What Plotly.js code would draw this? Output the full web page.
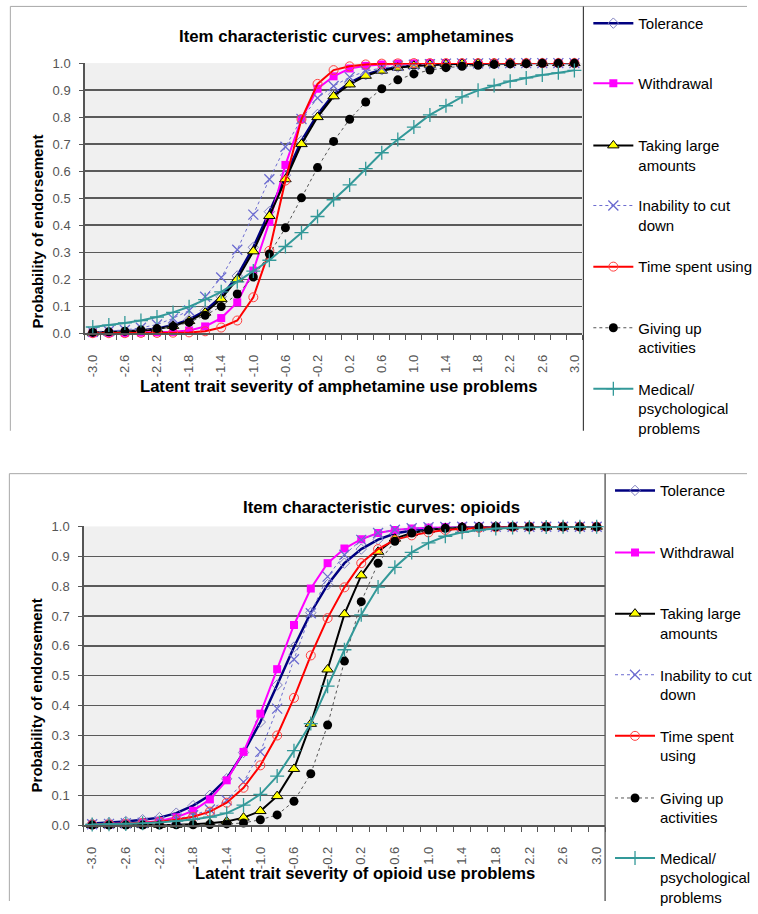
<!DOCTYPE html>
<html>
<head>
<meta charset="utf-8">
<script src="https://cdn.plot.ly/plotly-3.0.1.min.js"></script>
<style>html,body{margin:0;padding:0;background:#fff;}#chart{width:758px;height:914px;}</style>
</head>
<body>
<div id="chart"></div>
<script>
// ---------------- DATA ----------------
const xValues = [-3.0,-2.8,-2.6,-2.4,-2.2,-2.0,-1.8,-1.6,-1.4,-1.2,-1.0,-0.8,-0.6,-0.4,-0.2,0.0,0.2,0.4,0.6,0.8,1.0,1.2,1.4,1.6,1.8,2.0,2.2,2.4,2.6,2.8,3.0];
const xTickVals = [-3.0,-2.6,-2.2,-1.8,-1.4,-1.0,-0.6,-0.2,0.2,0.6,1.0,1.4,1.8,2.2,2.6,3.0];
const xTickText = ['-3.0','-2.6','-2.2','-1.8','-1.4','-1.0','-0.6','-0.2','0.2','0.6','1.0','1.4','1.8','2.2','2.6','3.0'];
const seriesNames = ['Tolerance','Withdrawal','Taking large amounts','Inability to cut down','Time spent using','Giving up activities','Medical/ psychological problems'];

// Amphetamines
const ampTolerance   = [0.002,0.004,0.006,0.010,0.017,0.030,0.050,0.083,0.135,0.212,0.318,0.450,0.585,0.712,0.810,0.884,0.927,0.957,0.975,0.985,0.991,0.995,0.997,0.998,0.999,0.999,1.000,1.000,1.000,1.000,1.000];
const ampWithdrawal  = [0.000,0.001,0.001,0.002,0.003,0.005,0.010,0.025,0.056,0.114,0.232,0.412,0.623,0.793,0.905,0.951,0.980,0.990,0.995,0.998,0.999,1.000,1.000,1.000,1.000,1.000,1.000,1.000,1.000,1.000,1.000];
const ampTaking      = [0.002,0.003,0.005,0.009,0.015,0.027,0.045,0.076,0.127,0.200,0.303,0.434,0.570,0.700,0.800,0.877,0.921,0.953,0.972,0.983,0.990,0.994,0.996,0.998,0.999,0.999,1.000,1.000,1.000,1.000,1.000];
const ampInability   = [0.005,0.008,0.012,0.020,0.032,0.055,0.084,0.135,0.206,0.309,0.439,0.570,0.690,0.793,0.871,0.915,0.948,0.970,0.982,0.990,0.994,0.996,0.998,0.999,0.999,0.999,1.000,1.000,1.000,1.000,1.000];
const ampTimeSpent   = [0.000,0.000,0.000,0.001,0.001,0.002,0.003,0.007,0.021,0.047,0.133,0.305,0.565,0.793,0.923,0.974,0.988,0.995,0.998,0.999,1.000,1.000,1.000,1.000,1.000,1.000,1.000,1.000,1.000,1.000,1.000];
const ampGivingUp    = [0.003,0.005,0.007,0.012,0.017,0.025,0.040,0.066,0.099,0.145,0.208,0.293,0.390,0.501,0.613,0.710,0.792,0.856,0.905,0.938,0.960,0.974,0.983,0.988,0.992,0.995,0.997,0.998,0.999,0.999,0.999];
const ampMedical     = [0.023,0.030,0.038,0.047,0.060,0.077,0.098,0.124,0.153,0.190,0.230,0.270,0.321,0.372,0.432,0.494,0.549,0.609,0.668,0.717,0.763,0.808,0.842,0.875,0.899,0.917,0.933,0.945,0.956,0.964,0.973];

// Opioids
const opiTolerance   = [0.005,0.008,0.012,0.018,0.025,0.040,0.065,0.100,0.155,0.243,0.345,0.469,0.596,0.711,0.805,0.877,0.924,0.956,0.976,0.986,0.992,0.995,0.997,0.998,0.999,0.999,0.999,0.999,0.999,0.999,0.999];
const opiWithdrawal  = [0.002,0.003,0.005,0.008,0.014,0.026,0.048,0.086,0.150,0.245,0.373,0.522,0.670,0.792,0.877,0.926,0.957,0.978,0.988,0.993,0.996,0.998,0.999,0.999,0.999,0.999,0.999,0.999,0.999,0.999,0.999];
const opiTaking      = [0.000,0.000,0.000,0.000,0.001,0.001,0.003,0.006,0.012,0.025,0.047,0.097,0.188,0.339,0.521,0.706,0.836,0.915,0.959,0.978,0.988,0.994,0.997,0.998,0.999,0.999,0.999,0.999,0.999,0.999,0.999];
const opiInability   = [0.003,0.004,0.006,0.008,0.012,0.020,0.033,0.052,0.083,0.144,0.245,0.390,0.555,0.709,0.832,0.905,0.955,0.978,0.989,0.994,0.997,0.998,0.999,0.999,0.999,0.999,0.999,0.999,0.999,0.999,0.999];
const opiTimeSpent   = [0.002,0.003,0.004,0.007,0.011,0.018,0.028,0.045,0.075,0.125,0.200,0.300,0.426,0.568,0.693,0.796,0.877,0.924,0.955,0.970,0.980,0.988,0.992,0.995,0.997,0.998,0.999,0.999,0.999,0.999,0.999];
const opiGivingUp    = [0.000,0.000,0.000,0.000,0.000,0.001,0.001,0.002,0.004,0.007,0.018,0.034,0.080,0.172,0.335,0.549,0.748,0.877,0.950,0.978,0.988,0.994,0.997,0.998,0.999,0.999,0.999,0.999,0.999,0.999,0.999];
const opiMedical     = [0.002,0.003,0.004,0.006,0.009,0.013,0.019,0.027,0.040,0.067,0.103,0.164,0.249,0.340,0.465,0.587,0.704,0.797,0.863,0.913,0.945,0.967,0.980,0.988,0.993,0.996,0.997,0.998,0.999,0.999,0.999];

// ---------------- STYLE ----------------
const W = 758, H = 914;
const px = v => v / W;
const py = v => 1 - v / H;
const FONT = 'Arial, "Liberation Sans", sans-serif';

const legendLabelsTop = ['Tolerance','Withdrawal','Taking large<br>amounts','Inability to cut<br>down','Time spent using','Giving up<br>activities','Medical/<br>psychological<br>problems'];
const legendLabelsBottom = ['Tolerance','Withdrawal','Taking large<br>amounts','Inability to cut<br>down','Time spent<br>using','Giving up<br>activities','Medical/<br>psychological<br>problems'];

const styles = [
  {line:{color:'#000080', width:2.5}, marker:{symbol:'diamond-open', color:'#7f7fc0', size:8, line:{width:1, color:'#7f7fc0'}}},
  {line:{color:'#ff00ff', width:2}, marker:{symbol:'square', color:'#ff00ff', size:8}},
  {line:{color:'#000000', width:2}, marker:{symbol:'triangle-up', color:'#ffff00', size:10, line:{color:'#000000', width:1}}},
  {line:{color:'#6b6bd0', width:1, dash:'dot'}, marker:{symbol:'x-thin-open', color:'#6b6bd0', size:10, line:{width:1.3, color:'#6b6bd0'}}},
  {line:{color:'#ff0000', width:2}, marker:{symbol:'circle-open', color:'#ff4040', size:9, line:{width:1, color:'#ff4040'}}},
  {line:{color:'#555555', width:1, dash:'dot'}, marker:{symbol:'circle', color:'#000000', size:9}},
  {line:{color:'#339999', width:2}, marker:{symbol:'cross-thin-open', color:'#339999', size:10, line:{width:1.3, color:'#339999'}}}
];

const ampSeries = [ampTolerance, ampWithdrawal, ampTaking, ampInability, ampTimeSpent, ampGivingUp, ampMedical];
const opiSeries = [opiTolerance, opiWithdrawal, opiTaking, opiInability, opiTimeSpent, opiGivingUp, opiMedical];

const legendTextTop = [20, 81, 144, 205, 267, 329, 391];
const legendTextBottom = [494, 557, 619, 681, 743, 806, 867];

const traces = [];
const layoutLegends = {};
function legendKey(n){ return n === 1 ? 'legend' : 'legend' + n; }

ampSeries.forEach((ys, i) => {
  const n = i + 1;
  traces.push(Object.assign({
    type:'scatter', mode:'lines+markers', x:xValues, y:ys, name:legendLabelsTop[i],
    xaxis:'x', yaxis:'y', legend:legendKey(n), cliponaxis:false
  }, JSON.parse(JSON.stringify(styles[i]))));
  layoutLegends[legendKey(n)] = {x:px(597), y:py(legendTextTop[i] - 13), xanchor:'left', yanchor:'top',
    bgcolor:'rgba(0,0,0,0)', borderwidth:0, valign:'top', itemwidth:40,
    font:{family:FONT, size:15, color:'#000'}};
});
opiSeries.forEach((ys, i) => {
  const n = i + 8;
  traces.push(Object.assign({
    type:'scatter', mode:'lines+markers', x:xValues, y:ys, name:legendLabelsBottom[i],
    xaxis:'x2', yaxis:'y2', legend:legendKey(n), cliponaxis:false
  }, JSON.parse(JSON.stringify(styles[i]))));
  layoutLegends[legendKey(n)] = {x:px(619), y:py(legendTextBottom[i] - 13), xanchor:'left', yanchor:'top',
    bgcolor:'rgba(0,0,0,0)', borderwidth:0, valign:'top', itemwidth:40,
    font:{family:FONT, size:15, color:'#000'}};
});

function xAxisDef(domain, anchor){
  return {domain:domain, anchor:anchor, range:[-3.1,3.1], tickmode:'array', tickvals:xTickVals, ticktext:xTickText,
    ticks:'', tickangle:-90, tickfont:{family:FONT, size:13, color:'#555'}, ticklabelstandoff:15,
    showline:true, linecolor:'#555', linewidth:1.5, showgrid:false, zeroline:false,
    minor:{tick0:-3.1, dtick:0.2, ticks:'outside', ticklen:5, tickcolor:'#555', tickwidth:1, showgrid:false}};
}
function yAxisDef(domain, anchor){
  return {domain:domain, anchor:anchor, range:[0,1], tick0:0, dtick:0.1, tickformat:'.1f',
    ticks:'outside', ticklen:4, tickcolor:'#555', tickfont:{family:FONT, size:13, color:'#555'}, ticklabelstandoff:6,
    showline:true, linecolor:'#555', linewidth:1.5, showgrid:true, gridcolor:'#5a5a5a', gridwidth:1.3, zeroline:false};
}

const titleFont = {family:FONT, size:16.8, color:'#000', weight:'bold'};
const axisTitleFont = {family:FONT, size:16.6, color:'#000', weight:'bold'};
const yTitleFont = {family:FONT, size:15, color:'#000', weight:'bold'};
function ann(text, x, y, font, angle){
  return {text:text, x:px(x), y:py(y), xref:'paper', yref:'paper', xanchor:'center', yanchor:'middle',
    showarrow:false, textangle:angle || 0, font:font};
}
const annotations = [
  ann('Item characteristic curves: amphetamines', 352, 37, titleFont),
  ann('Item characteristic curves: opioids', 387, 515, titleFont),
  ann('Latent trait severity of amphetamine use problems', 343, 392, axisTitleFont),
  ann('Latent trait severity of opioid use problems', 370, 886, axisTitleFont),
  ann('Probability of endorsement', 38.5, 235, yTitleFont, -90),
  ann('Probability of endorsement', 38, 705, yTitleFont, -90)
];

function lineShape(x0,y0,x1,y1,color,width){
  return {type:'line', xref:'paper', yref:'paper', x0:px(x0), y0:py(y0), x1:px(x1), y1:py(y1), line:{color:color, width:width}, layer:'below'};
}
const shapes = [
  lineShape(10.5,6.5,758,6.5,'#a8a8a8',1),
  lineShape(10.5,6.5,10.5,437,'#a8a8a8',1),
  lineShape(592,6.5,592,437,'#404040',1.2),
  lineShape(9.5,480.5,758,480.5,'#a8a8a8',1),
  lineShape(9.5,480.5,9.5,914,'#a8a8a8',1),
  lineShape(614,480.5,614,914,'#404040',1.2)
];

const layout = Object.assign({
  width:W, height:H, margin:{l:0,r:0,t:0,b:0}, paper_bgcolor:'#ffffff', plot_bgcolor:'#f0f0f0',
  showlegend:true, font:{family:FONT},
  xaxis: xAxisDef([px(86), px(591)], 'y'),
  yaxis: yAxisDef([py(338), py(64)], 'x'),
  xaxis2: xAxisDef([px(85), px(614)], 'y2'),
  yaxis2: yAxisDef([py(837), py(534)], 'x2'),
  annotations: annotations, shapes: shapes
}, layoutLegends);

Plotly.newPlot('chart', traces, layout, {displayModeBar:false, staticPlot:true});
</script>
</body>
</html>
